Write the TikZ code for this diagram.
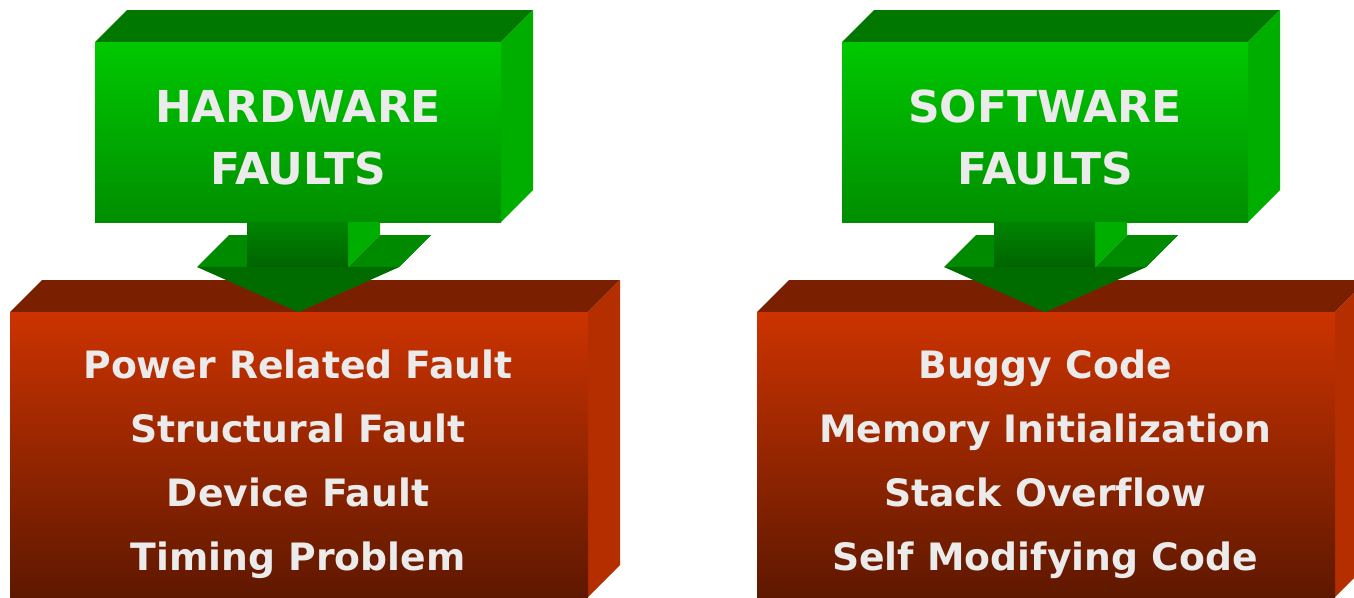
\documentclass[tikz,border=0pt]{standalone}
\usepackage{fontspec}
\setsansfont{DejaVu Sans}[Ligatures=NoCommon]
\usetikzlibrary{positioning}
\definecolor{gfront}{HTML}{00C800}
\definecolor{gfrontlo}{HTML}{008E00}
\definecolor{gtop}{HTML}{007800}
\definecolor{gside}{HTML}{00AE00}
\definecolor{gstem}{HTML}{008400}
\definecolor{gstemlo}{HTML}{006400}
\definecolor{gshoulder}{HTML}{008A00}
\definecolor{ghead}{HTML}{006C00}
\definecolor{rfront}{HTML}{CC3300}
\definecolor{rfrontlo}{HTML}{5E1800}
\definecolor{rtop}{HTML}{7A1F00}
\definecolor{rside}{HTML}{B52E00}
\definecolor{ctext}{HTML}{EBEBEB}
\tikzset{
  every picture/.style={x=1pt, y=-1pt},
  label/.style={text=ctext, font=\sffamily\bfseries\fontsize{44}{50}\selectfont, anchor=base, inner sep=0pt},
  item/.style={text=ctext, font=\sffamily\bfseries\fontsize{37.7}{44}\selectfont, anchor=base, inner sep=0pt},
}

\begin{document}
\begin{tikzpicture}
  \useasboundingbox (0,0) rectangle (1354,597);
  \clip (0,0) rectangle (1354,597);
  \foreach \o in {0,747} {
    \begin{scope}[xshift=\o pt]
      % red block
      \fill[rtop] (10,312) -- (42,280) -- (620,280) -- (588,312) -- cycle;
      \fill[rside] (588,312) -- (620,280) -- (620,565) -- (588,597) -- cycle;
      \fill[top color=rfront, bottom color=rfrontlo] (10,312) rectangle (588,597);
      % green block
      \fill[gtop] (95,42) -- (127,10) -- (533,10) -- (501,42) -- cycle;
      \fill[gside] (501,42) -- (533,10) -- (533,190) -- (501,222) -- cycle;
      \fill[top color=gfront, bottom color=gfrontlo] (95,42) rectangle (501,222);
      % arrow
      \fill[gshoulder] (197,267) -- (229,235) -- (279,235) -- (247,267) -- cycle;
      \fill[gside] (348,222) -- (380,222) -- (380,235) -- (348,267) -- cycle;
      \fill[gshoulder] (348,267) -- (380,235) -- (431,235) -- (399,267) -- cycle;
      \fill[gshoulder] (399,267) -- (431,235) -- (330,280) -- (298,312) -- cycle;
      \fill[top color=gstem, bottom color=gstemlo] (247,222) rectangle (348,267);
      \fill[ghead] (197,267) -- (399,267) -- (298,312) -- cycle;
    \end{scope}
  }
  \node[label] (hw1) at (298,122) {HARDWARE};
  \node[label] (hw2) at (298,184) {FAULTS};
  \node[label] (sw1) at (1045,122) {SOFTWARE};
  \node[label] (sw2) at (1045,184) {FAULTS};
  \foreach \t [count=\i] in {Power Related Fault, Structural Fault, Device Fault, Timing Problem}
    \node[item] (hwi\i) at (298,{378+64*(\i-1)}) {\t};
  \foreach \t [count=\i] in {Buggy Code, Memory Initialization, Stack Overflow, Self Modifying Code}
    \node[item] (swi\i) at (1045,{378+64*(\i-1)}) {\t};
\end{tikzpicture}
\end{document}
